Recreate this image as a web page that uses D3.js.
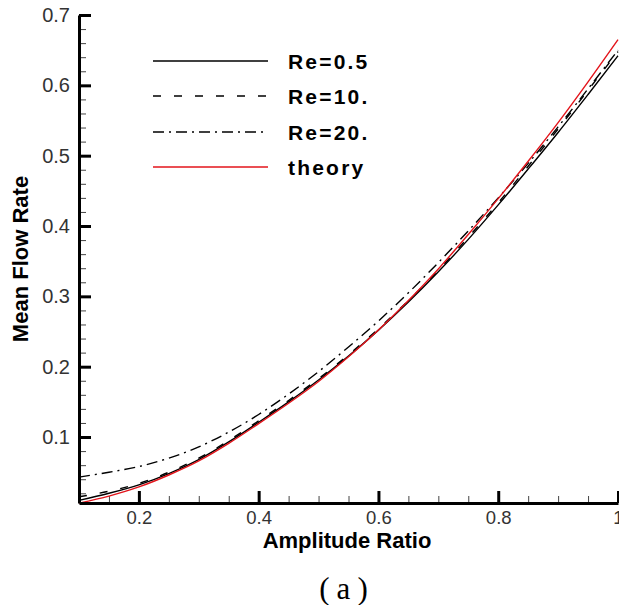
<!DOCTYPE html>
<html>
<head>
<meta charset="utf-8">
<script src="https://cdn.jsdelivr.net/npm/d3@7"></script>
<style>
  html, body { margin: 0; padding: 0; background: #fff; }
  svg { display: block; font-family: "Liberation Sans", Arial, sans-serif; }
</style>
</head>
<body>
<svg id="chart" width="619" height="605"></svg>
<script>
// amplitude ratio samples
const amplitude = [0.10, 0.15, 0.20, 0.25, 0.30, 0.35, 0.40, 0.45, 0.50, 0.55,
                   0.60, 0.65, 0.70, 0.75, 0.80, 0.85, 0.90, 0.95, 1.00];

// mean flow rate
const re05 = [0.010, 0.020, 0.032, 0.048, 0.068, 0.093, 0.121, 0.150, 0.181, 0.215,
              0.252, 0.292, 0.335, 0.381, 0.430, 0.481, 0.533, 0.587, 0.642];
const re10 = [0.015, 0.023, 0.034, 0.050, 0.070, 0.095, 0.123, 0.152, 0.183, 0.217,
              0.254, 0.294, 0.337, 0.384, 0.433, 0.485, 0.538, 0.593, 0.648];
const re20 = [0.043, 0.050, 0.058, 0.070, 0.086, 0.107, 0.132, 0.161, 0.193, 0.228,
              0.265, 0.305, 0.348, 0.393, 0.440, 0.489, 0.541, 0.595, 0.650];
const theory = [0.006, 0.016, 0.029, 0.046, 0.066, 0.091, 0.119, 0.148, 0.179, 0.214,
                0.252, 0.294, 0.339, 0.388, 0.439, 0.492, 0.547, 0.605, 0.665];

const seriesNames = ["Re=0.5", "Re=10.", "Re=20.", "theory"];
const xTicks = [0.2, 0.4, 0.6, 0.8, 1];
const yTicks = [0.1, 0.2, 0.3, 0.4, 0.5, 0.6, 0.7];

const svg = d3.select("#chart");

const x = d3.scaleLinear().domain([0.1, 1]).range([79, 618]);
const y = d3.scaleLinear().domain([0.0062, 0.7]).range([503, 15]);

// line styles per series
const styles = [
    { color: "#000", dash: null },
    { color: "#000", dash: "8,13" },
    { color: "#000", dash: "11,5,2,5" },
    { color: "#e3141b", dash: null }
];
const values = [re05, re10, re20, theory];

// minor ticks first so the axis line sits on top
const xMinor = d3.range(0.15, 1.0001, 0.05).filter(v => Math.abs(v * 5 - Math.round(v * 5)) > 1e-6);
const yMinor = d3.range(0.02, 0.7001, 0.02).filter(v => Math.abs(v * 10 - Math.round(v * 10)) > 1e-6);

svg.append("g")
    .attr("transform", "translate(0,503)")
    .call(d3.axisBottom(x).tickValues(xMinor).tickSize(-7).tickFormat(""))
    .call(g => g.select(".domain").remove())
    .call(g => g.selectAll("line").attr("stroke", "#444").attr("stroke-width", 1));

svg.append("g")
    .attr("transform", "translate(79,0)")
    .call(d3.axisLeft(y).tickValues(yMinor).tickSize(-7).tickFormat(""))
    .call(g => g.select(".domain").remove())
    .call(g => g.selectAll("line").attr("stroke", "#444").attr("stroke-width", 1));

// curves
const line = d3.line()
    .x(d => x(d[0]))
    .y(d => y(d[1]))
    .curve(d3.curveMonotoneX);

values.forEach((vals, i) => {
    svg.append("path")
        .datum(amplitude.map((a, j) => [a, vals[j]]))
        .attr("fill", "none")
        .attr("stroke", styles[i].color)
        .attr("stroke-width", 1.4)
        .attr("stroke-dasharray", styles[i].dash)
        .attr("d", line);
});

// major axes
const xAxis = svg.append("g")
    .attr("transform", "translate(0,503)")
    .call(d3.axisBottom(x).tickValues(xTicks).tickSize(-12).tickSizeOuter(0).tickPadding(8)
        .tickFormat(d => d === 1 ? "1" : d3.format(".1f")(d)));

const yAxis = svg.append("g")
    .attr("transform", "translate(79,0)")
    .call(d3.axisLeft(y).tickValues(yTicks).tickSize(-12).tickSizeOuter(0).tickPadding(9)
        .tickFormat(d3.format(".1f")));

[xAxis, yAxis].forEach(g => {
    g.select(".domain").attr("stroke", "#000").attr("stroke-width", 3);
    g.selectAll(".tick line").attr("stroke", "#000").attr("stroke-width", 3);
    g.selectAll(".tick text")
        .attr("fill", "#333")
        .style("font-family", "'Liberation Sans', Arial, sans-serif");
});
xAxis.selectAll(".tick text").style("font-size", "18.5px");
yAxis.selectAll(".tick text").style("font-size", "20px");

// axis titles
svg.append("text")
    .attr("x", 347)
    .attr("y", 548)
    .attr("text-anchor", "middle")
    .style("font-size", "22px")
    .style("font-weight", "bold")
    .text("Amplitude Ratio");

svg.append("text")
    .attr("transform", "translate(28,259) rotate(-90)")
    .attr("text-anchor", "middle")
    .style("font-size", "22px")
    .style("font-weight", "bold")
    .text("Mean Flow Rate");

// panel label
svg.append("text")
    .attr("x", 347)
    .attr("y", 599)
    .attr("text-anchor", "middle")
    .style("font-family", "'Liberation Serif', 'DejaVu Serif', serif")
    .style("font-size", "31px")
    .style("letter-spacing", "7px")
    .text("(a)");

// legend
const legend = svg.append("g");
const legendY = [61, 96, 132, 167];

seriesNames.forEach((name, i) => {
    legend.append("line")
        .attr("x1", 153).attr("x2", 268)
        .attr("y1", legendY[i]).attr("y2", legendY[i])
        .attr("stroke", styles[i].color)
        .attr("stroke-width", 1.4)
        .attr("stroke-dasharray", styles[i].dash);

    legend.append("text")
        .attr("x", 288)
        .attr("y", legendY[i])
        .attr("dy", "0.36em")
        .style("font-size", "21px")
        .style("font-weight", "bold")
        .style("letter-spacing", "2.2px")
        .text(name);
});
</script>
</body>
</html>
